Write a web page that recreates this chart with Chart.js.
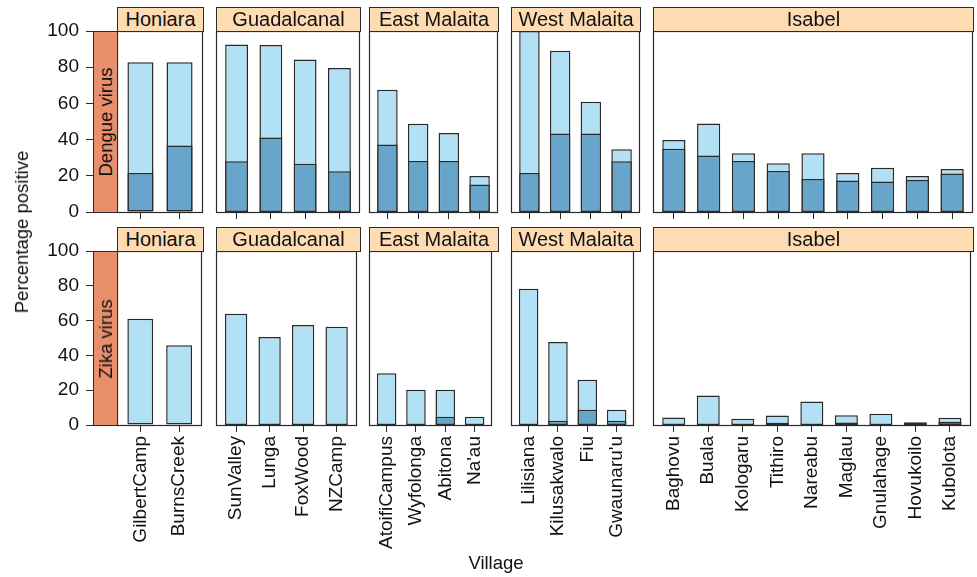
<!DOCTYPE html>
<html>
<head>
<meta charset="utf-8">
<script src="https://cdn.jsdelivr.net/npm/chart.js@4"></script>
<style>
	body {margin: 0; background: #fff; font-family: 'Liberation Sans', Arial, sans-serif;}
	#wrap {position: relative; width: 977px; height: 577px; overflow: hidden;}
	canvas {position: absolute;}
	.strip {position: absolute; background: #fddcb4; border: 1px solid #2a2a2a; box-sizing: border-box; text-align: center; font-size: 20px; line-height: 23px; color: #111; z-index: 2;}
	.side {position: absolute; background: #ea8f6c; border: 1px solid #2a2a2a; box-sizing: border-box; z-index: 2;}
	.side span, .title.rot {position: absolute; white-space: nowrap; transform: translate(-50%, -50%) rotate(-90deg);}
	.side span {left: 50%; top: 50%; font-size: 18.5px; color: #111;}
	.title {position: absolute; font-size: 18.5px; white-space: nowrap; color: #111; transform: translate(-50%, -50%);}
</style>
</head>
<body>
<div id="wrap"></div>
<script>
// data
const regions = ['Honiara', 'Guadalcanal', 'East Malaita', 'West Malaita', 'Isabel'];
const villages = ['GilbertCamp', 'BurnsCreek',
	'SunValley', 'Lunga', 'FoxWood', 'NZCamp',
	'AtoifiCampus', 'Wyfolonga', 'Abitona', "Na'au",
	'Lilisiana', 'Kilusakwalo', 'Fiu', "Gwaunaru'u",
	'Baghovu', 'Buala', 'Kologaru', 'Tithiro', 'Nareabu', 'Maglau', 'Gnulahage', 'Hovukoilo', 'Kubolota'];
const villageRegion = ['Honiara', 'Honiara',
	'Guadalcanal', 'Guadalcanal', 'Guadalcanal', 'Guadalcanal',
	'East Malaita', 'East Malaita', 'East Malaita', 'East Malaita',
	'West Malaita', 'West Malaita', 'West Malaita', 'West Malaita',
	'Isabel', 'Isabel', 'Isabel', 'Isabel', 'Isabel', 'Isabel', 'Isabel', 'Isabel', 'Isabel'];
const dengueTotal = [82.7, 82.7, 92.6, 92.2, 84.3, 79.5, 67.5, 48.7, 43.6, 19.9, 100, 89.1, 60.9, 34.7,
	39.8, 48.9, 32.5, 27.0, 32.5, 21.6, 24.4, 19.9, 23.8];
const dengueSubset = [21.6, 36.7, 28.0, 41.2, 26.6, 22.5, 37.3, 28.2, 28.2, 15.2, 21.6, 43.4, 43.4, 28.0,
	34.9, 31.2, 28.2, 22.7, 18.3, 17.4, 16.8, 17.7, 21.3];
const zikaTotal = [61.0, 45.8, 63.9, 50.6, 57.5, 56.4, 29.7, 20.3, 20.3, 4.7, 78.3, 47.7, 26.0, 8.8,
	4.3, 17.0, 3.6, 5.5, 13.5, 5.6, 6.4, 1.6, 4.1];
const zikaSubset = [0, 0, 0, 0, 0, 0, 0, 0, 4.7, 0, 0, 2.4, 8.8, 2.4,
	0, 0, 0, 1.3, 0, 1.4, 0, 0, 1.8];
const yTicks = [0, 20, 40, 60, 80, 100];

// layout
const LIGHT = '#b2e0f5';
const DARK = '#68a5cb';
const LINE = '#2a2a2a';
const FONT = 'Liberation Sans, Arial, sans-serif';
const panelLeft = [117, 216, 369, 511, 653];
const panelWidth = [86, 144, 129, 129, 320];
const rows = [
	{top: 31, height: 181, label: 'Dengue virus', total: dengueTotal, subset: dengueSubset, labels: false},
	{top: 251, height: 174, label: 'Zika virus', total: zikaTotal, subset: zikaSubset, labels: true}
];
const PAD_TOP = 20;

const wrap = document.getElementById('wrap');

const panelBox = {
	id: 'panelBox',
	afterDraw(chart) {
		const a = chart.chartArea;
		const ctx = chart.ctx;
		ctx.save();
		ctx.strokeStyle = LINE;
		ctx.lineWidth = 1.2;
		ctx.strokeRect(Math.round(a.left) + 0.5, Math.round(a.top) + 0.5,
			Math.round(a.right - a.left) - 1, Math.round(a.bottom - a.top));
		ctx.restore();
	}
};

function addDiv(cls, left, top, width, height, html) {
	const d = document.createElement('div');
	d.className = cls;
	d.style.left = left + 'px';
	d.style.top = top + 'px';
	if (width != null) d.style.width = width + 'px';
	if (height != null) d.style.height = height + 'px';
	d.innerHTML = html;
	wrap.appendChild(d);
	return d;
}

rows.forEach(function(row) {
	const axisH = row.labels ? 150 : 20;
	addDiv('side', 93, row.top, 25, row.height + 1, `<span>${row.label}</span>`);

	regions.forEach(function(region, i) {
		const idx = [];
		villageRegion.forEach((r, k) => { if (r === region) idx.push(k); });
		const names = idx.map(k => villages[k]);
		const total = idx.map((k, j) => ({x: j + 1, y: row.total[k]}));
		const subset = idx.map((k, j) => ({x: j + 1, y: row.subset[k]})).filter(p => p.y > 0);
		const first = i === 0;

		addDiv('strip', panelLeft[i], row.top - 24, panelWidth[i] + 1, 25, region);

		const cv = document.createElement('canvas');
		const left = first ? 0 : panelLeft[i] - 4;
		const width = first ? panelLeft[i] + panelWidth[i] + 4 : panelWidth[i] + 8;
		cv.width = width;
		cv.height = PAD_TOP + row.height + axisH;
		cv.style.left = left + 'px';
		cv.style.top = (row.top - PAD_TOP) + 'px';
		wrap.appendChild(cv);

		const barStyle = {
			borderColor: LINE,
			borderWidth: 1.5,
			borderSkipped: false,
			grouped: false,
			barPercentage: 2 / 3,
			categoryPercentage: 1
		};

		new Chart(cv.getContext('2d'), {
			type: 'bar',
			data: {
				datasets: [
					Object.assign({data: total, backgroundColor: LIGHT, order: 2}, barStyle),
					Object.assign({data: subset, backgroundColor: DARK, order: 1}, barStyle)
				]
			},
			options: {
				responsive: false,
				animation: false,
				layout: {padding: {top: PAD_TOP, left: first ? 0 : 4, right: 4, bottom: 0}},
				plugins: {legend: {display: false}, tooltip: {enabled: false}},
				scales: {
					x: {
						type: 'linear',
						min: 0.4,
						max: names.length + 0.6,
						offset: false,
						afterBuildTicks: s => { s.ticks = names.map((n, j) => ({value: j + 1})); },
						afterFit: s => { s.height = axisH; },
						ticks: {
							display: row.labels,
							autoSkip: false,
							minRotation: 90,
							maxRotation: 90,
							padding: 4,
							color: '#111',
							font: {family: FONT, size: 19},
							callback: (v, j) => names[j]
						},
						grid: {offset: false, drawOnChartArea: false, drawTicks: true, tickLength: 7, color: LINE},
						border: {display: false}
					},
					y: {
						type: 'linear',
						display: first,
						min: 0,
						max: 100,
						afterBuildTicks: s => { s.ticks = yTicks.map(v => ({value: v})); },
						afterFit: s => { s.width = first ? panelLeft[0] : 0; },
						ticks: {padding: 7, color: '#111', font: {family: FONT, size: 19}},
						grid: {drawOnChartArea: false, drawTicks: true, tickLength: 31, color: LINE},
						border: {display: false}
					}
				}
			},
			plugins: [panelBox]
		});
	});
});

addDiv('title rot', 22, 232, null, null, 'Percentage positive');
addDiv('title', 496, 563, null, null, 'Village');
</script>
</body>
</html>
